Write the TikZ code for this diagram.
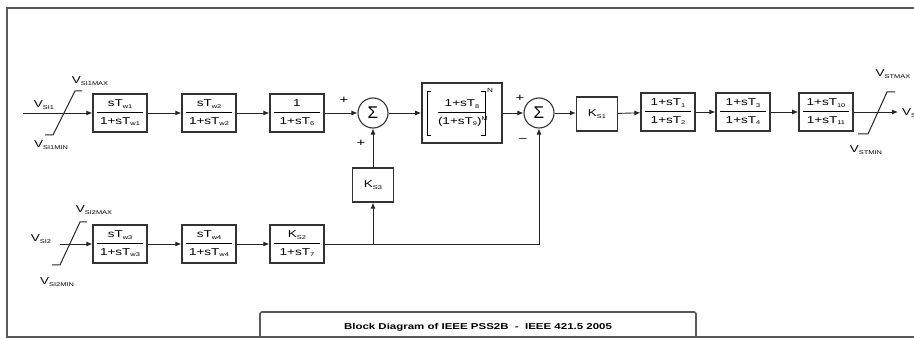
\documentclass[tikz,border=0pt]{standalone}
\usepackage{fontspec}
\setmainfont{Liberation Sans}[FakeStretch=1.35]
\newfontfamily\sigfont{Liberation Sans}
\usetikzlibrary{arrows.meta}
\newcommand\sub[1]{\raisebox{-1.6pt}{\fontsize{5.5}{6}\selectfont #1}}
\newcommand\supr[1]{\raisebox{3.5pt}{\fontsize{5.5}{6}\selectfont #1}}
\newcommand\fr[3][46pt]{\vbox{\hbox to #1{\hfil\strut #2\hfil}\kern1.5pt\hrule height 0.8pt\kern3pt\hbox to #1{\hfil\strut #3\hfil}}}
\begin{document}
\begin{tikzpicture}[x=1pt,y=-1pt,
 line/.style={draw=black!85, line width=0.9pt},
 arr/.style={line, -{Latex[length=6pt,width=5pt]}},
 blk/.style={draw=black!80, line width=1.2pt, fill=white, inner sep=0pt, minimum height=38pt, minimum width=54pt, font=\fontsize{10}{12}\selectfont},
 kblk/.style={blk, minimum height=34pt, minimum width=41pt},
 sumn/.style={circle, draw=black!80, line width=1.1pt, minimum size=30pt, inner sep=0pt, font=\sigfont\fontsize{17}{17}\selectfont},
 lbl/.style={inner sep=0pt, font=\fontsize{10}{12}\selectfont},
 sgn/.style={inner sep=0pt, font=\fontsize{11}{12}\selectfont},
 frame/.style={draw=black!65, line width=1.6pt},
 lim/.style={draw=black!85, line width=1pt}]
\useasboundingbox (0,0) rectangle (914,339);
% frame and title
\draw[frame] (914,8) -- (7,8) -- (7,337) -- (914,337);
\draw[frame, rounded corners=2pt] (260,337) -- (260,312) -- (696,312) -- (696,337);
\node[inner sep=0pt, font=\fontsize{8.5}{10}\selectfont\bfseries] (title) at (478,327) {Block Diagram of IEEE PSS2B \ - \ IEEE 421.5 2005};
% top row
\node[blk] (b1) at (120,113) {\fr{sT\sub{w1}}{1+sT\sub{w1}}};
\node[blk] (b2) at (209,113) {\fr{sT\sub{w2}}{1+sT\sub{w2}}};
\node[blk] (b3) at (297,113) {\fr{1}{1+sT\sub{6}}};
\node[sumn] (s1) at (373,113) {Σ};
\node[blk, minimum width=80pt, minimum height=60pt, line width=1.6pt] (big) at (462,113) {\fr[48pt]{1+sT\sub{8}}{(1+sT\sub{9})\supr{M}}};
\node[sumn] (s2) at (539,113) {Σ};
\node[kblk] (ks1) at (597,114) {K\sub{S1}};
\node[blk] (b4) at (668,112) {\fr{1+sT\sub{1}}{1+sT\sub{2}}};
\node[blk] (b5) at (743,112) {\fr{1+sT\sub{3}}{1+sT\sub{4}}};
\node[blk, line width=1.6pt] (b6) at (826,112) {\fr{1+sT\sub{10}}{1+sT\sub{11}}};
% bottom row
\node[blk] (c1) at (120,244) {\fr{sT\sub{w3}}{1+sT\sub{w3}}};
\node[blk] (c2) at (209,244) {\fr{sT\sub{w4}}{1+sT\sub{w4}}};
\node[blk] (c3) at (297,244) {\fr{K\sub{S2}}{1+sT\sub{7}}};
\node[kblk] (ks3) at (373,185) {K\sub{S3}};
% brackets of the big block
\draw[line width=1pt] (431,92) -- (427,92) -- (427,136) -- (431,136);
\draw[line width=1pt] (481,92) -- (485,92) -- (485,136) -- (481,136);
\node[inner sep=0pt, font=\fontsize{6}{6}\selectfont] (bigN) at (490,90) {N};
% limiters
\draw[lim] (45,135) -- (53,135) -- (75,91) -- (82,91);
\draw[lim] (52,265) -- (60,265) -- (80,222) -- (87,222);
\draw[lim] (858,134) -- (868,134) -- (887,92) -- (895,92);
% labels
\node[lbl] (lsi1) at (44,105) {V\sub{SI1}};
\node[lbl] (lsi1max) at (90,81) {V\sub{SI1MAX}};
\node[lbl] (lsi1min) at (51,145) {V\sub{SI1MIN}};
\node[lbl] (lsi2) at (41,239) {V\sub{SI2}};
\node[lbl] (lsi2max) at (94,210) {V\sub{SI2MAX}};
\node[lbl] (lsi2min) at (57,282) {V\sub{SI2MIN}};
\node[lbl] (lstmax) at (893,74) {V\sub{STMAX}};
\node[lbl] (lstmin) at (866,150) {V\sub{STMIN}};
\node[lbl, anchor=west] (lst) at (902,113) {V\sub{ST}};
\node[sgn] (p1) at (344,100) {+};
\node[sgn] (p2) at (361,143) {+};
\node[sgn] (p3) at (520,98) {+};
\node[sgn] (m1) at (523,140) {\textminus};
% connectors
\coordinate (in1) at (23,113);
\coordinate (in2) at (60,244);
\coordinate (out) at (898,112);
\coordinate (tee) at (373,244);
\coordinate (corner) at (539,244);
\draw[arr] (in1) -- (b1);
\draw[arr] (b1) -- (b2);
\draw[arr] (b2) -- (b3);
\draw[arr] (b3) -- (s1);
\draw[arr] (s1) -- (big);
\draw[arr] (big) -- (s2);
\draw[arr] (s2) -- (ks1.west |- s2);
\draw[arr] (ks1) -- (b4);
\draw[arr] (b4) -- (b5);
\draw[arr] (b5) -- (b6);
\draw[arr] (b6) -- (out);
\draw[arr] (in2) -- (c1);
\draw[arr] (c1) -- (c2);
\draw[arr] (c2) -- (c3);
\draw[arr] (c3) -- (corner) -- (s2);
\draw[arr] (tee) -- (ks3);
\draw[arr] (ks3) -- (s1);
\end{tikzpicture}
\end{document}
